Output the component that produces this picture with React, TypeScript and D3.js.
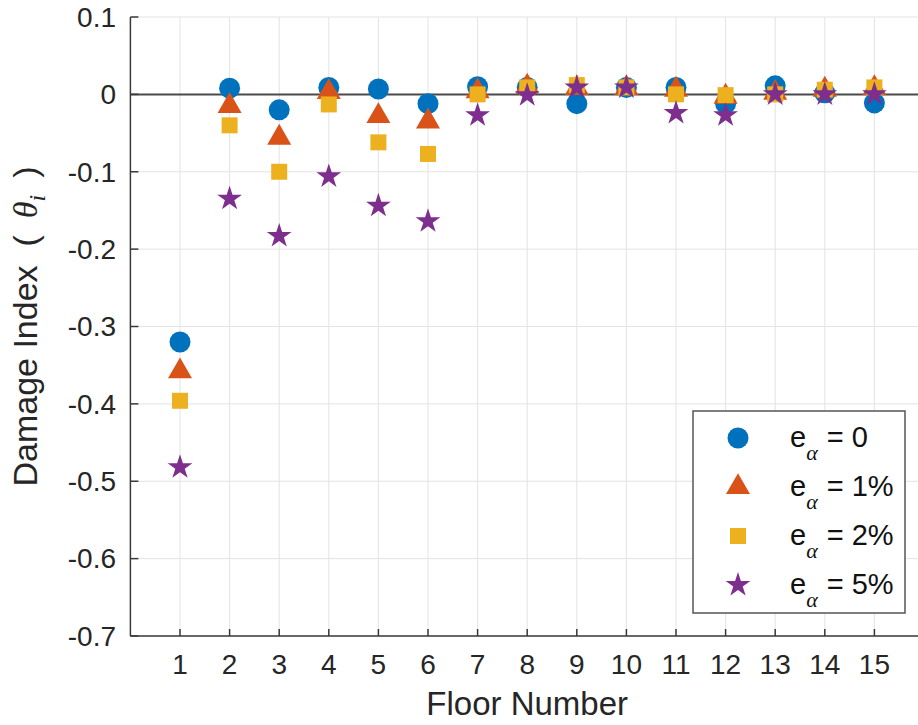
import React, { useEffect, useRef } from 'react';
import * as d3 from 'd3';

// damage index per floor for different eccentricities

const floors = [1, 2, 3, 4, 5, 6, 7, 8, 9, 10, 11, 12, 13, 14, 15];
const xTicks = floors;
const yTicks = [0.1, 0, -0.1, -0.2, -0.3, -0.4, -0.5, -0.6, -0.7];

const e0 = [-0.32, 0.008, -0.02, 0.009, 0.007, -0.012, 0.01, 0.009, -0.012, 0.009, 0.009, -0.012, 0.011, 0.002, -0.011];
const e1 = [-0.358, -0.015, -0.056, 0.003, -0.028, -0.035, 0.004, 0.01, 0.008, 0.008, 0.006, -0.003, 0.002, 0.006, 0.008];
const e2 = [-0.396, -0.04, -0.1, -0.013, -0.062, -0.077, 0.0, 0.009, 0.012, 0.009, 0.0, -0.001, 0.0, 0.006, 0.009];
const e5 = [-0.482, -0.135, -0.183, -0.106, -0.144, -0.164, -0.027, -0.001, 0.009, 0.009, -0.024, -0.027, 0.0, 0.0, 0.0];

const seriesNames = ['0', '1%', '2%', '5%'];

export default function App() {
  const ref = useRef<SVGSVGElement>(null);

  useEffect(() => {
    const width = 918;
    const height = 725;
    const svg = d3.select(ref.current).attr('width', width).attr('height', height);
    svg.selectAll('*').remove();

    const left = 130.4, top = 17, bottom = 636;
    const x = d3.scaleLinear().domain([0, 16]).range([left, 924]);
    const y = d3.scaleLinear().domain([-0.7, 0.1]).range([bottom, top]);

    const font = '"Liberation Sans", Arial, Helvetica, sans-serif';
    const serif = '"Liberation Serif", "Times New Roman", serif';
    const txt = '#262626';
    const axisCol = '#3a3a3a';

    // grid
    const grid = svg.append('g');
    grid.selectAll('.gx').data(xTicks).enter().append('line')
      .attr('x1', (d) => x(d)).attr('x2', (d) => x(d))
      .attr('y1', top).attr('y2', bottom)
      .attr('stroke', '#e3e3e3').attr('stroke-width', 1);
    grid.selectAll('.gy').data(yTicks).enter().append('line')
      .attr('x1', left).attr('x2', width)
      .attr('y1', (d) => y(d)).attr('y2', (d) => y(d))
      .attr('stroke', '#e3e3e3').attr('stroke-width', 1);

    // zero line
    svg.append('line')
      .attr('x1', left).attr('x2', width)
      .attr('y1', y(0)).attr('y2', y(0))
      .attr('stroke', '#4a4a4a').attr('stroke-width', 2);

    // axes (ticks point inward)
    svg.append('line').attr('x1', left).attr('x2', left).attr('y1', top).attr('y2', bottom)
      .attr('stroke', axisCol).attr('stroke-width', 1.5);
    svg.append('line').attr('x1', left).attr('x2', width).attr('y1', bottom).attr('y2', bottom)
      .attr('stroke', axisCol).attr('stroke-width', 1.5);
    svg.selectAll('.ty').data(yTicks).enter().append('line')
      .attr('x1', left).attr('x2', left + 8)
      .attr('y1', (d) => y(d)).attr('y2', (d) => y(d))
      .attr('stroke', axisCol).attr('stroke-width', 1.5);
    svg.selectAll('.tx').data(xTicks).enter().append('line')
      .attr('x1', (d) => x(d)).attr('x2', (d) => x(d))
      .attr('y1', bottom).attr('y2', bottom - 7)
      .attr('stroke', axisCol).attr('stroke-width', 1.5);

    // tick labels
    svg.selectAll('.ly').data(yTicks).enter().append('text')
      .attr('x', 116).attr('y', (d) => y(d)).attr('dy', '0.35em')
      .attr('text-anchor', 'end')
      .attr('font-family', font).attr('font-size', 28).attr('fill', txt)
      .text((d) => (d === 0 ? '0' : String(d)));
    svg.selectAll('.lx').data(xTicks).enter().append('text')
      .attr('x', (d) => x(d)).attr('y', 674)
      .attr('text-anchor', 'middle')
      .attr('font-family', font).attr('font-size', 28).attr('fill', txt)
      .text((d) => d);

    // axis labels
    svg.append('text')
      .attr('x', x(8)).attr('y', 715)
      .attr('text-anchor', 'middle')
      .attr('font-family', font).attr('font-size', 33).attr('fill', txt)
      .text('Floor Number');
    const yl = svg.append('text')
      .attr('transform', 'translate(37,' + ((top + bottom) / 2) + ') rotate(-90)')
      .attr('text-anchor', 'middle')
      .attr('font-family', font).attr('font-size', 34).attr('fill', txt);
    yl.append('tspan').attr('xml:space', 'preserve').text('Damage Index  (\u2002');
    yl.append('tspan').attr('font-family', serif).attr('font-style', 'italic').text('θ');
    yl.append('tspan').attr('font-family', serif).attr('font-style', 'italic')
      .attr('font-size', 24).attr('dy', 8).text('i');
    yl.append('tspan').attr('dy', -8).text('\u2002)');

    // markers
    const colors = ['#0072BD', '#D95319', '#EDB120', '#7E2F8E'];
    const symbols = [
      d3.symbol().type(d3.symbolCircle).size(346),
      d3.symbol().type(d3.symbolTriangle).size(250),
      d3.symbol().type(d3.symbolSquare).size(256),
      d3.symbol().type(d3.symbolStar).size(190),
    ];
    const allSeries = [e0, e1, e2, e5];
    allSeries.forEach((vals, i) => {
      svg.append('g').selectAll('path').data(vals).enter().append('path')
        .attr('d', symbols[i]() as string)
        .attr('transform', (d, j) => 'translate(' + x(floors[j]) + ',' + y(d) + ')')
        .attr('fill', colors[i]);
    });

    // legend
    const lg = svg.append('g');
    lg.append('rect').attr('x', 693).attr('y', 411).attr('width', 212).attr('height', 202)
      .attr('fill', 'white').attr('stroke', '#555').attr('stroke-width', 1.5);
    seriesNames.forEach((name, i) => {
      const ry = 438 + i * 49;
      lg.append('path').attr('d', symbols[i]() as string)
        .attr('transform', 'translate(738,' + ry + ')')
        .attr('fill', colors[i]);
      const t = lg.append('text').attr('x', 790).attr('y', ry + 9)
        .attr('font-family', font).attr('font-size', 29).attr('fill', '#111');
      t.append('tspan').text('e');
      t.append('tspan').attr('font-family', serif).attr('font-style', 'italic')
        .attr('font-size', 22).attr('dy', 13).text('α');
      t.append('tspan').attr('dy', -13).attr('dx', 9).text('= ' + name);
    });
  }, []);

  return (<div>
    <svg ref={ref} style={{ position: 'absolute', left: 0, top: 0, background: 'white' }}></svg>
  </div>);
}
